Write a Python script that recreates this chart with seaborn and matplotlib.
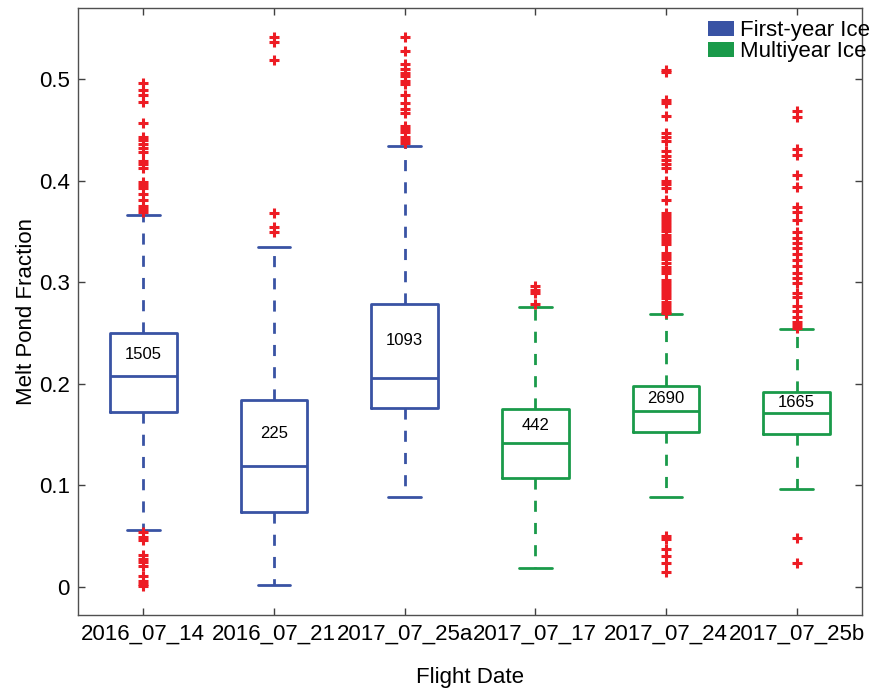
import numpy as np
import pandas as pd
import matplotlib
matplotlib.use('Agg')
import matplotlib.pyplot as plt
from matplotlib.patches import Patch
import seaborn as sns

# flight dates and ice type
flights = ["2016_07_14", "2016_07_21", "2017_07_25a", "2017_07_17", "2017_07_24", "2017_07_25b"]
ice_type = ["First-year Ice", "First-year Ice", "First-year Ice", "Multiyear Ice", "Multiyear Ice", "Multiyear Ice"]
n_samples = [1505, 225, 1093, 442, 2690, 1665]

# box stats
q1 = [0.172, 0.074, 0.176, 0.107, 0.153, 0.151]
med = [0.208, 0.119, 0.206, 0.142, 0.173, 0.171]
q3 = [0.250, 0.184, 0.279, 0.175, 0.198, 0.192]
whislo = [0.056, 0.002, 0.089, 0.019, 0.089, 0.096]
whishi = [0.366, 0.335, 0.434, 0.276, 0.269, 0.254]

# outliers
fliers_1 = [0.496, 0.489, 0.484, 0.477, 0.457, 0.443, 0.440, 0.436, 0.432, 0.428, 0.419, 0.416,
            0.412, 0.399, 0.396, 0.393, 0.387, 0.381, 0.375, 0.372, 0.369,
            0.054, 0.049, 0.046, 0.031, 0.028, 0.025, 0.021, 0.011, 0.006, 0.003, 0.001]
fliers_2 = [0.541, 0.537, 0.519, 0.368, 0.354, 0.349]
fliers_3 = [0.541, 0.528, 0.515, 0.510, 0.506, 0.503, 0.498, 0.495, 0.484, 0.476, 0.471, 0.467,
            0.454, 0.451, 0.448, 0.443, 0.440, 0.437]
fliers_4 = [0.296, 0.292, 0.289, 0.279]
fliers_5 = [0.509, 0.507, 0.479, 0.476, 0.464, 0.447, 0.443, 0.439, 0.429, 0.424, 0.420, 0.416,
            0.412, 0.400, 0.397, 0.393, 0.381, 0.368, 0.365, 0.362, 0.359, 0.356, 0.353, 0.350,
            0.347, 0.344, 0.341, 0.338, 0.329, 0.326, 0.323, 0.319, 0.315, 0.312, 0.309, 0.302,
            0.299, 0.296, 0.293, 0.290, 0.287, 0.284, 0.281, 0.278, 0.275, 0.272, 0.270,
            0.050, 0.047, 0.037, 0.030, 0.024, 0.015]
fliers_6 = [0.469, 0.463, 0.431, 0.425, 0.406, 0.394, 0.374, 0.369, 0.361, 0.349, 0.344, 0.339,
            0.334, 0.328, 0.322, 0.316, 0.309, 0.304, 0.299, 0.289, 0.285, 0.277, 0.272, 0.266,
            0.261, 0.258, 0.255, 0.048, 0.024]
fliers = [fliers_1, fliers_2, fliers_3, fliers_4, fliers_5, fliers_6]

colors = {"First-year Ice": "#3953a4", "Multiyear Ice": "#1a9a4a"}
red = "#ed1c24"

sns.set_theme(style="white")
plt.rcParams['font.family'] = ['Liberation Sans', 'DejaVu Sans']
plt.rcParams['text.color'] = 'black'
plt.rcParams['axes.labelcolor'] = 'black'

fig = plt.figure(figsize=(8.73, 6.89), dpi=100)
ax = fig.add_axes([0.0893, 0.1074, 0.8981, 0.881])

pos = np.arange(1, len(flights) + 1)
for i in range(len(flights)):
    st = [{"med": med[i], "q1": q1[i], "q3": q3[i], "whislo": whislo[i], "whishi": whishi[i],
           "fliers": [], "label": flights[i]}]
    c = colors[ice_type[i]]
    ax.bxp(st, positions=[pos[i]], widths=0.51, capwidths=0.25, showfliers=False,
           boxprops={"color": c, "linewidth": 2.0},
           medianprops={"color": c, "linewidth": 2.0},
           whiskerprops={"color": c, "linewidth": 2.0, "linestyle": (0, (4, 4))},
           capprops={"color": c, "linewidth": 2.0})
    ax.text(pos[i], (med[i] + q3[i]) / 2, str(n_samples[i]), ha='center', va='center', fontsize=12, color='black')

fl_df = pd.DataFrame({"x": np.concatenate([[pos[i]] * len(f) for i, f in enumerate(fliers)]),
                      "y": np.concatenate(fliers)})
sns.scatterplot(data=fl_df, x="x", y="y", ax=ax, marker="+", color=red, s=45,
                linewidth=2.2, zorder=3, legend=False)

ax.set_xlim(0.5, 6.5)
ax.set_ylim(-0.0276, 0.57)
ax.set_xticks(pos)
ax.set_xticklabels(flights, fontsize=16)
ax.set_yticks([0, 0.1, 0.2, 0.3, 0.4, 0.5])
ax.set_yticklabels(["0", "0.1", "0.2", "0.3", "0.4", "0.5"], fontsize=16)
ax.tick_params(direction='in', length=5, width=1, color='#404040', labelcolor='black',
               top=True, right=True, bottom=True, left=True, pad=6)
for s in ax.spines.values():
    s.set_color('#505050')
    s.set_linewidth(1.0)

ax.set_xlabel("Flight Date", fontsize=16, labelpad=16)
ax.set_ylabel("Melt Pond Fraction", fontsize=16, labelpad=1)

handles = [Patch(facecolor=colors["First-year Ice"], edgecolor='none'),
           Patch(facecolor=colors["Multiyear Ice"], edgecolor='none')]
fig.legend(handles, ["First-year Ice", "Multiyear Ice"], loc='upper left',
           bbox_to_anchor=(708 / 873, 1 - 20 / 689), bbox_transform=fig.transFigure,
           frameon=False, fontsize=16, handlelength=1.15, handleheight=0.65,
           handletextpad=0.3, labelspacing=0.0, borderpad=0, borderaxespad=0)

plt.savefig("out.png", dpi=100)
